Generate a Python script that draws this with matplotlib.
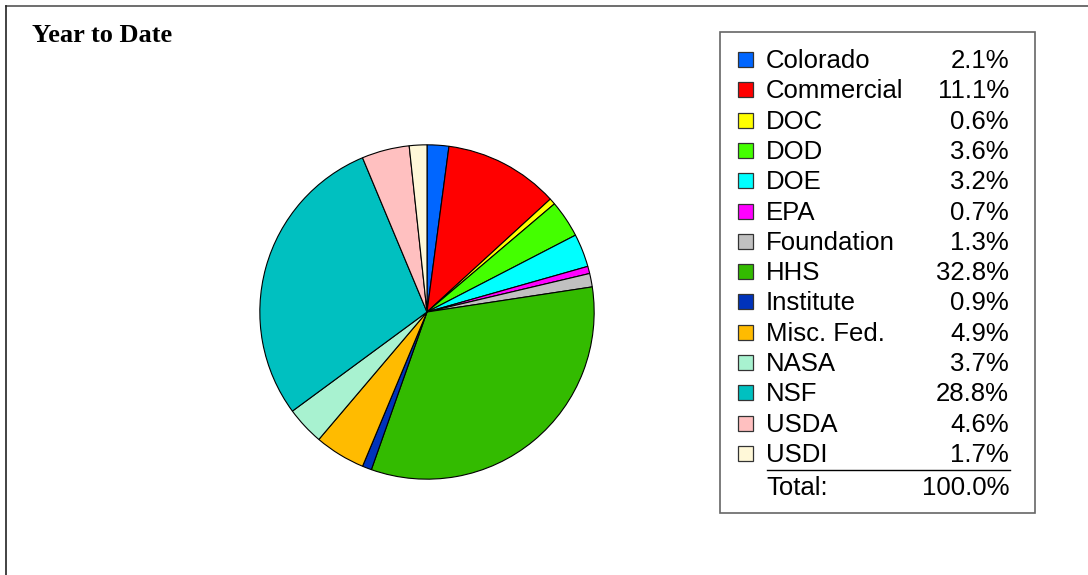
import matplotlib
matplotlib.use("Agg")
import matplotlib.pyplot as plt
from matplotlib.patches import Rectangle
from matplotlib.lines import Line2D

categories = ["Colorado", "Commercial", "DOC", "DOD", "DOE", "EPA", "Foundation",
              "HHS", "Institute", "Misc. Fed.", "NASA", "NSF", "USDA", "USDI"]
values = [2.1, 11.1, 0.6, 3.6, 3.2, 0.7, 1.3, 32.8, 0.9, 4.9, 3.7, 28.8, 4.6, 1.7]
colors = ["#0066FF", "#FF0000", "#FFFF00", "#44FF00", "#00FFFF", "#FF00FF", "#C0C0C0",
          "#33BB00", "#0033BB", "#FFBB00", "#A8F2D0", "#00C0C0", "#FFC0C0", "#FFF8D8"]
title = "Year to Date"
total_label = "Total:"

W, H = 1088, 575
fig = plt.figure(figsize=(W / 100, H / 100), dpi=100)
fig.patch.set_facecolor("white")

# overlay axes in pixel coords
ov = fig.add_axes([0, 0, 1, 1])
ov.set_xlim(0, W)
ov.set_ylim(H, 0)
ov.axis("off")

# frame (top and left visible)
ov.add_line(Line2D([6, W], [6, 6], color="#555555", lw=1.2))
ov.add_line(Line2D([6, 6], [6, H], color="#222222", lw=1.2))

ov.text(32, 36, title, fontsize=19, fontweight="bold", family="Liberation Serif",
        ha="left", va="center")

# pie
cx, cy, r = 427, 312, 168
pax = fig.add_axes([(cx - r) / W, (H - cy - r) / H, 2 * r / W, 2 * r / H])
pax.pie(values, colors=colors, startangle=90, counterclock=False,
        wedgeprops=dict(edgecolor="black", linewidth=0.8))
pax.set_xlim(-1.005, 1.005)
pax.set_ylim(-1.005, 1.005)
pax.axis("off")

# legend box
ov.add_patch(Rectangle((720, 32), 315, 481, facecolor="white", edgecolor="#666666", lw=1.2))
y0, dy = 60, 30.3
fs = 18.5
for i, (c, v, col) in enumerate(zip(categories, values, colors)):
    y = y0 + i * dy
    ov.add_patch(Rectangle((738, y - 8), 15, 15, facecolor=col, edgecolor="#333333", lw=0.9))
    ov.text(766, y + 1, c, fontsize=fs, family="Liberation Sans", ha="left", va="center")
    ov.text(1009, y + 1, f"{v:.1f}%", fontsize=fs, family="Liberation Sans",
            ha="right", va="center")
ylast = y0 + (len(categories) - 1) * dy
yl = ylast + 16
ov.add_line(Line2D([767, 1010], [yl, yl], color="black", lw=1.0))
yt = ylast + 34
ov.text(766, yt, total_label, fontsize=fs, family="Liberation Sans", ha="left", va="center")
ov.text(1009, yt, f"{sum(values):.1f}%", fontsize=fs, family="Liberation Sans",
        ha="right", va="center")

fig.savefig("out.png", dpi=100)
